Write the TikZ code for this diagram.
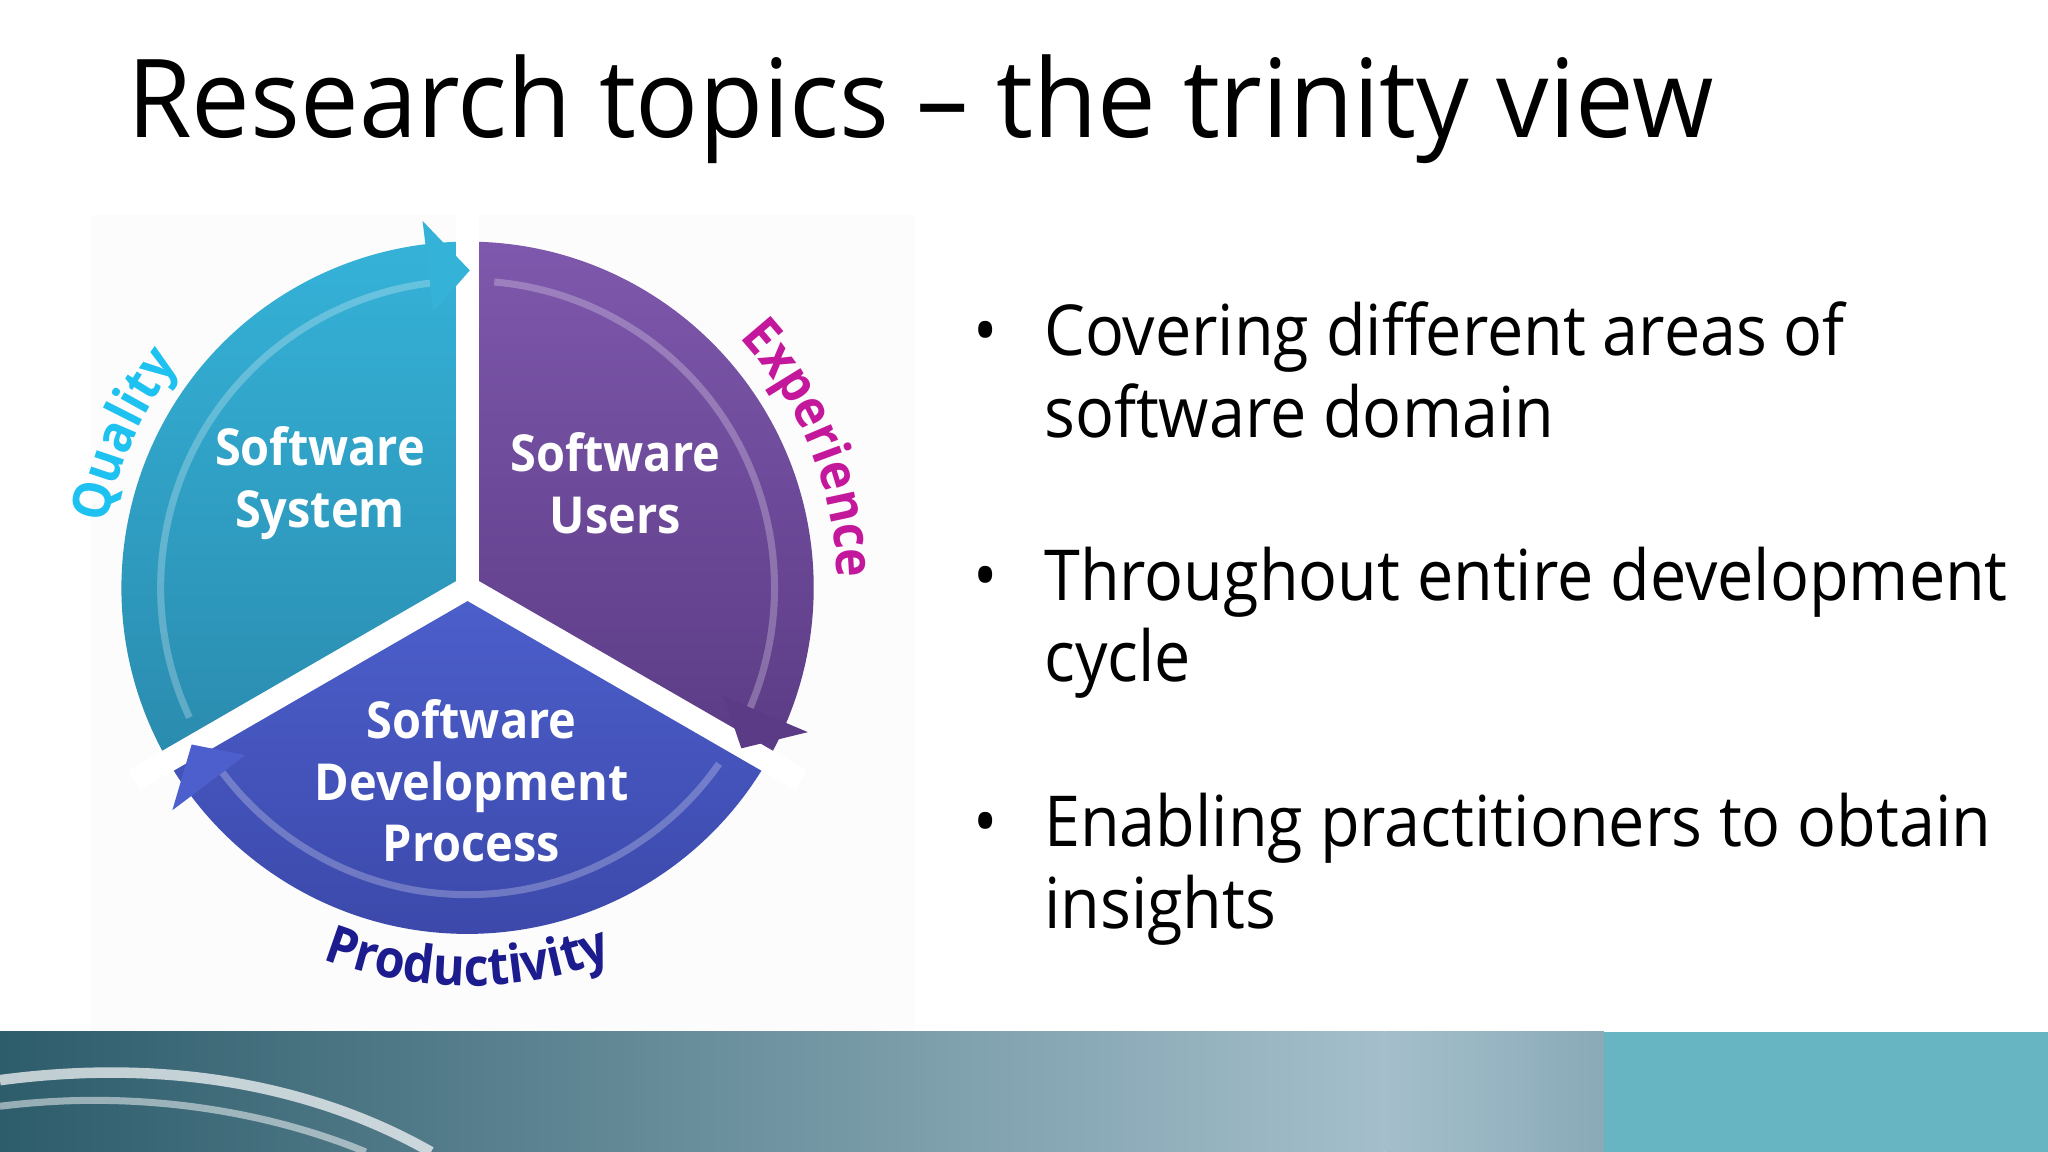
\documentclass[tikz,border=0pt]{standalone}
\usepackage{fontspec}
\setmainfont[FakeStretch=0.92,Ligatures=TeX]{Open Sans}
\newfontfamily\titlefont[FakeStretch=0.96,Ligatures=TeX]{Open Sans}
\usetikzlibrary{calc,decorations.text}
\definecolor{bluA}{HTML}{35B2D8}\definecolor{bluB}{HTML}{2A8BAE}
\definecolor{purA}{HTML}{7E58AC}\definecolor{purB}{HTML}{5B3B85}
\definecolor{botA}{HTML}{4C5FCC}\definecolor{botB}{HTML}{3A46A6}
\definecolor{qual}{HTML}{1EC2F0}\definecolor{expc}{HTML}{C4189C}\definecolor{prod}{HTML}{1C1C8E}
\definecolor{bandA}{HTML}{2D5C6B}\definecolor{bandB}{HTML}{A4BFCB}\definecolor{bandC}{HTML}{8AAAB8}\definecolor{bandD}{HTML}{67B5C3}
\tikzset{seglabel/.style={text=white,font=\fontsize{14.5}{17.5}\selectfont\bfseries,align=center},
 bullettext/.style={anchor=base west,font=\fontsize{20}{24}\selectfont},
 gapline/.style={white,line width=6.5pt}}
\begin{document}
\begin{tikzpicture}[x=0.01306cm,y=0.01306cm]
\useasboundingbox (0,0) rectangle (1568,882);
\fill[white] (0,0) rectangle (1568,882);
\fill[black!1] (70,92) rectangle (700,717);
% band
\shade[left color=bandA,right color=bandB] (0,0) rectangle (1060,92);
\shade[left color=bandB,right color=bandC] (1060,0) rectangle (1228,92);
\fill[bandD] (1228,0) rectangle (1568,92);
\draw[white,opacity=.7,line width=3pt] (0,55) .. controls (150,75) and (260,40) .. (330,0);
\draw[white,opacity=.5,line width=2pt] (0,35) .. controls (120,50) and (220,25) .. (280,0);
% title
\node[anchor=base west,font=\titlefont\fontsize{31}{36}\selectfont] (title) at (88,777) {Research topics – the trinity view};
\coordinate (C) at (358,432);
\def\R{265}
% sectors
\shade[top color=bluA,bottom color=bluB] (C) -- ++(210:\R) arc (210:90:\R) -- cycle;
\shade[top color=purA,bottom color=purB] (C) -- ++(90:\R) arc (90:-30:\R) -- cycle;
\shade[top color=botA,bottom color=botB] (C) -- ++(-30:\R) arc (-30:-150:\R) -- cycle;
% ridges
\draw[white,opacity=.25,line width=2pt] ($(C)+(205:235)$) arc (205:97:235);
\draw[white,opacity=.25,line width=2pt] ($(C)+(85:235)$) arc (85:-23:235);
\draw[white,opacity=.25,line width=2pt] ($(C)+(-35:235)$) arc (-35:-143:235);
% gaps
\draw[gapline] (C) -- ++(90:\R+30);
\draw[gapline] (C) -- ++(-30:\R+30);
\draw[gapline] (C) -- ++(210:\R+30);
% arrowheads
\fill[bluA] ($(C)+(97:\R+18)$) -- ($(C)+(89.6:\R-22)$) -- ($(C)+(97:\R-52)$) -- cycle;
\fill[purB] ($(C)+(-23:\R+18)$) -- ($(C)+(-30.4:\R-22)$) -- ($(C)+(-23:\R-52)$) -- cycle;
\fill[botA] ($(C)+(-143:\R+18)$) -- ($(C)+(-150.4:\R-22)$) -- ($(C)+(-143:\R-52)$) -- cycle;
% segment labels
\node[seglabel] (sys) at (245,512) {Software\\System};
\node[seglabel] (usr) at (471,512) {Software\\Users};
\node[seglabel] (dev) at (361,284) {Software\\Development\\Process};
% curved labels
\path[decorate,decoration={text along path,text align=center,
  text={|\fontsize{15}{15}\selectfont\bfseries\color{qual}|Quality}}]
  ($(C)+(174:280)$) arc (174:138:280);
\path[decorate,decoration={text along path,text align=center,
  text={|\fontsize{15}{15}\selectfont\bfseries\color{expc}|Experience}}]
  ($(C)+(45:283)$) arc (45:-1:283);
\path[decorate,decoration={text along path,text align=center,
  text={|\fontsize{15}{15}\selectfont\bfseries\color{prod}|Productivity}}]
  ($(C)+(-122:305)$) arc (-122:-58:305);
% bullets
\foreach \n/\y/\t in {b1/610/Covering different areas of, b2/422/Throughout entire development, b3/234/Enabling practitioners to obtain}{
  \node[anchor=base,font=\fontsize{20}{24}\selectfont] (\n d) at (755,\y) {\textbullet};
  \node[bullettext] (\n) at (790,\y) {\t};}
\node[bullettext] (b1b) at (790,547) {software domain};
\node[bullettext] (b2b) at (790,360) {cycle};
\node[bullettext] (b3b) at (790,171) {insights};
\end{tikzpicture}
\end{document}
